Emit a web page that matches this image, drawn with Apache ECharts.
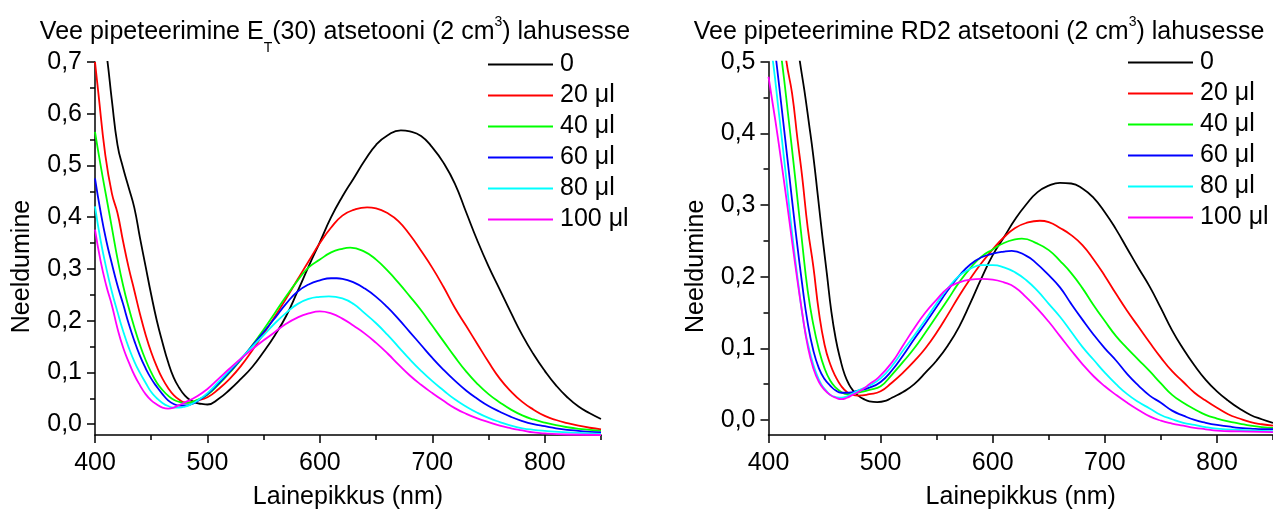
<!DOCTYPE html>
<html>
<head>
<meta charset="utf-8">
<script src="https://cdn.jsdelivr.net/npm/echarts@6/dist/echarts.min.js"></script>
<style>
  html, body { margin: 0; padding: 0; background: #ffffff; }
  #chart { width: 1273px; height: 515px; }
</style>
</head>
<body>
<div id="chart"></div>
<script>
// Absorption spectra after adding water to the dye solution in acetone.
// Each list holds [wavelength (nm), absorbance] pairs.

// E_T(30) in acetone
const et30_0 = [[400,0.87],[405,0.80],[411,0.703],[415,0.626],[420,0.54],[425,0.495],[430,0.457],[435,0.418],[440,0.36],[445,0.305],[450,0.25],[455,0.20],[460,0.158],[465,0.12],[470,0.09],[475,0.07],[480,0.055],[485,0.046],[490,0.041],[495,0.039],[500,0.038],[510,0.049],[520,0.067],[530,0.088],[540,0.111],[550,0.14],[560,0.172],[570,0.209],[580,0.256],[590,0.305],[600,0.352],[610,0.40],[620,0.44],[630,0.475],[640,0.51],[650,0.54],[660,0.558],[672,0.568],[680,0.566],[690,0.557],[700,0.535],[710,0.505],[720,0.465],[730,0.41],[740,0.355],[750,0.305],[760,0.26],[770,0.215],[780,0.172],[790,0.135],[800,0.103],[810,0.075],[820,0.052],[830,0.034],[840,0.021],[850,0.01]];
const et30_20 = [[400,0.70],[403,0.64],[409,0.523],[415,0.446],[420,0.408],[425,0.353],[430,0.302],[435,0.258],[440,0.213],[445,0.173],[450,0.139],[455,0.111],[460,0.088],[465,0.07],[470,0.056],[475,0.047],[480,0.042],[485,0.042],[490,0.045],[500,0.052],[510,0.068],[520,0.088],[530,0.113],[540,0.143],[550,0.175],[560,0.208],[570,0.243],[580,0.279],[590,0.315],[600,0.35],[610,0.38],[620,0.403],[630,0.414],[642,0.419],[650,0.417],[660,0.408],[670,0.392],[680,0.366],[690,0.335],[700,0.302],[710,0.265],[720,0.225],[730,0.19],[740,0.155],[750,0.12],[760,0.088],[770,0.063],[780,0.043],[790,0.028],[800,0.016],[810,0.008],[820,0.002],[830,-0.003],[840,-0.007],[850,-0.01]];
const et30_40 = [[400,0.565],[405,0.50],[410,0.44],[415,0.38],[420,0.32],[425,0.268],[430,0.225],[435,0.187],[440,0.153],[445,0.124],[450,0.10],[455,0.08],[460,0.066],[465,0.055],[470,0.047],[475,0.043],[480,0.041],[485,0.042],[490,0.046],[500,0.057],[510,0.077],[520,0.10],[530,0.125],[540,0.153],[550,0.183],[560,0.215],[570,0.247],[580,0.277],[590,0.303],[600,0.318],[610,0.332],[620,0.339],[627,0.341],[640,0.333],[650,0.318],[660,0.297],[670,0.273],[680,0.247],[690,0.22],[700,0.19],[710,0.16],[720,0.13],[730,0.102],[740,0.078],[750,0.058],[760,0.042],[770,0.028],[780,0.017],[790,0.009],[800,0.003],[810,-0.002],[820,-0.006],[830,-0.009],[840,-0.011],[850,-0.013]];
const et30_60 = [[400,0.475],[405,0.41],[410,0.355],[415,0.31],[420,0.268],[425,0.232],[430,0.194],[435,0.161],[440,0.132],[445,0.108],[450,0.088],[455,0.072],[460,0.058],[465,0.046],[470,0.039],[475,0.036],[480,0.036],[485,0.038],[490,0.043],[500,0.058],[510,0.079],[520,0.102],[530,0.126],[540,0.152],[550,0.178],[560,0.205],[570,0.233],[580,0.256],[590,0.27],[600,0.278],[610,0.282],[615,0.282],[620,0.281],[630,0.274],[640,0.262],[650,0.246],[660,0.226],[670,0.203],[680,0.178],[690,0.153],[700,0.128],[710,0.105],[720,0.084],[730,0.065],[740,0.049],[750,0.035],[760,0.024],[770,0.014],[780,0.006],[790,0.0],[800,-0.004],[810,-0.008],[820,-0.011],[830,-0.013],[840,-0.015],[850,-0.016]];
const et30_80 = [[400,0.421],[405,0.355],[410,0.302],[415,0.256],[420,0.217],[425,0.18],[430,0.148],[435,0.121],[440,0.099],[445,0.08],[450,0.062],[455,0.05],[460,0.041],[465,0.035],[470,0.032],[475,0.032],[480,0.034],[485,0.038],[490,0.044],[500,0.06],[510,0.082],[520,0.105],[530,0.127],[540,0.15],[550,0.172],[560,0.195],[570,0.215],[580,0.232],[590,0.242],[600,0.246],[608,0.247],[620,0.243],[630,0.232],[640,0.214],[650,0.195],[660,0.173],[670,0.149],[680,0.125],[690,0.103],[700,0.083],[710,0.065],[720,0.048],[730,0.034],[740,0.022],[750,0.012],[760,0.004],[770,-0.003],[780,-0.008],[790,-0.011],[800,-0.013],[820,-0.016],[850,-0.019]];
const et30_100 = [[400,0.376],[405,0.315],[410,0.268],[415,0.23],[420,0.185],[425,0.148],[430,0.12],[435,0.095],[440,0.075],[445,0.058],[450,0.046],[455,0.038],[460,0.032],[465,0.03],[470,0.032],[475,0.037],[480,0.042],[490,0.053],[500,0.068],[510,0.088],[520,0.108],[530,0.127],[540,0.145],[550,0.162],[560,0.178],[570,0.194],[580,0.206],[590,0.214],[600,0.218],[610,0.214],[620,0.204],[630,0.19],[640,0.175],[650,0.157],[660,0.137],[670,0.115],[680,0.094],[690,0.076],[700,0.06],[710,0.045],[720,0.031],[730,0.02],[740,0.011],[750,0.004],[760,-0.003],[770,-0.008],[780,-0.012],[790,-0.016],[800,-0.018],[820,-0.02],[850,-0.021]];

// RD2 in acetone
const rd2_0 = [[400,0.74],[410,0.68],[415,0.64],[420,0.59],[424,0.545],[428,0.50],[432,0.46],[436,0.415],[440,0.368],[444,0.313],[448,0.257],[452,0.205],[456,0.152],[460,0.113],[464,0.085],[468,0.063],[472,0.049],[476,0.04],[480,0.034],[485,0.029],[490,0.026],[497,0.025],[505,0.027],[510,0.031],[520,0.039],[530,0.05],[540,0.066],[550,0.083],[560,0.104],[570,0.13],[580,0.163],[590,0.198],[600,0.23],[610,0.255],[620,0.28],[630,0.301],[640,0.318],[650,0.327],[660,0.331],[670,0.33],[680,0.323],[690,0.31],[700,0.29],[710,0.266],[720,0.239],[730,0.212],[740,0.186],[750,0.156],[760,0.125],[770,0.099],[780,0.076],[790,0.056],[800,0.04],[810,0.027],[820,0.016],[830,0.007],[840,0.001],[850,-0.004]];
const rd2_20 = [[400,0.70],[405,0.65],[410,0.58],[416,0.50],[421,0.456],[426,0.39],[430,0.34],[435,0.268],[440,0.214],[445,0.15],[450,0.105],[455,0.078],[460,0.06],[465,0.047],[470,0.039],[475,0.035],[480,0.034],[490,0.036],[500,0.04],[510,0.052],[520,0.066],[530,0.082],[540,0.10],[550,0.122],[560,0.147],[570,0.173],[580,0.197],[590,0.219],[600,0.238],[610,0.255],[620,0.268],[630,0.275],[642,0.278],[650,0.276],[660,0.268],[670,0.258],[680,0.244],[690,0.224],[700,0.201],[710,0.176],[720,0.152],[730,0.13],[740,0.108],[750,0.087],[760,0.068],[770,0.053],[780,0.038],[790,0.027],[800,0.017],[810,0.008],[820,0.002],[830,-0.003],[840,-0.006],[850,-0.008]];
const rd2_40 = [[400,0.64],[405,0.58],[412,0.50],[418,0.419],[424,0.335],[430,0.248],[435,0.18],[440,0.133],[445,0.098],[450,0.072],[455,0.055],[460,0.045],[465,0.039],[470,0.036],[475,0.036],[480,0.038],[490,0.042],[500,0.047],[510,0.063],[520,0.081],[530,0.10],[540,0.122],[550,0.145],[560,0.168],[570,0.192],[580,0.212],[590,0.228],[600,0.238],[610,0.247],[620,0.252],[626,0.253],[640,0.246],[650,0.237],[660,0.222],[670,0.205],[680,0.184],[690,0.16],[700,0.138],[710,0.117],[720,0.10],[730,0.084],[740,0.068],[750,0.051],[760,0.035],[770,0.024],[780,0.015],[790,0.007],[800,0.002],[810,-0.002],[820,-0.005],[830,-0.008],[840,-0.01],[850,-0.011]];
const rd2_60 = [[400,0.59],[407,0.50],[412,0.432],[418,0.349],[424,0.266],[430,0.19],[435,0.135],[440,0.097],[445,0.072],[450,0.057],[455,0.048],[460,0.041],[465,0.038],[470,0.038],[475,0.039],[480,0.041],[490,0.045],[500,0.053],[510,0.069],[520,0.09],[530,0.113],[540,0.135],[550,0.158],[560,0.181],[570,0.201],[580,0.217],[590,0.227],[600,0.232],[610,0.235],[617,0.236],[630,0.229],[638,0.22],[650,0.202],[660,0.185],[670,0.162],[680,0.14],[690,0.119],[700,0.10],[710,0.083],[720,0.064],[730,0.048],[740,0.034],[750,0.024],[760,0.013],[770,0.006],[780,0.0],[790,-0.004],[800,-0.007],[810,-0.009],[820,-0.011],[830,-0.012],[840,-0.013],[850,-0.013]];
const rd2_80 = [[400,0.54],[404,0.50],[409,0.432],[415,0.349],[421,0.261],[427,0.185],[432,0.13],[438,0.088],[442,0.068],[447,0.05],[452,0.04],[456,0.034],[460,0.032],[465,0.031],[470,0.033],[475,0.037],[480,0.041],[490,0.048],[500,0.058],[510,0.075],[520,0.097],[530,0.118],[540,0.14],[550,0.163],[560,0.184],[570,0.201],[580,0.211],[590,0.216],[600,0.216],[610,0.213],[620,0.206],[630,0.195],[640,0.18],[650,0.162],[660,0.144],[670,0.123],[680,0.102],[690,0.084],[700,0.066],[710,0.05],[720,0.036],[730,0.025],[740,0.016],[750,0.007],[760,0.001],[770,-0.004],[780,-0.007],[790,-0.01],[800,-0.012],[820,-0.014],[850,-0.016]];
const rd2_100 = [[400,0.479],[406,0.419],[412,0.354],[418,0.285],[424,0.215],[430,0.15],[435,0.103],[440,0.072],[445,0.053],[450,0.042],[455,0.035],[460,0.031],[465,0.029],[470,0.031],[475,0.035],[480,0.039],[486,0.045],[490,0.05],[498,0.059],[510,0.08],[520,0.104],[530,0.128],[540,0.15],[550,0.168],[560,0.184],[570,0.192],[580,0.196],[590,0.197],[600,0.196],[610,0.192],[620,0.185],[630,0.171],[640,0.155],[650,0.137],[660,0.117],[670,0.097],[680,0.078],[690,0.061],[700,0.047],[710,0.035],[720,0.024],[730,0.014],[740,0.005],[750,-0.001],[760,-0.005],[770,-0.008],[780,-0.011],[790,-0.013],[800,-0.015],[820,-0.016],[850,-0.017]];

// Legend entries (added water volume) and line colours
const seriesNames = ['0', '20 μl', '40 μl', '60 μl', '80 μl', '100 μl'];
const seriesColors = ['#000000', '#ff0000', '#00ff00', '#0000ff', '#00ffff', '#ff00ff'];

// Tick positions
const xMajorTicks = [400, 500, 600, 700, 800];
const xMinorTicks = [450, 550, 650, 750, 850];
const yMajorTicksEt30 = [0, 0.1, 0.2, 0.3, 0.4, 0.5, 0.6, 0.7];
const yMinorTicksEt30 = [0.05, 0.15, 0.25, 0.35, 0.45, 0.55, 0.65];
const yMajorTicksRd2 = [0, 0.1, 0.2, 0.3, 0.4, 0.5];
const yMinorTicksRd2 = [0.05, 0.15, 0.25, 0.35, 0.45];

const et30Series = [et30_0, et30_20, et30_40, et30_60, et30_80, et30_100];
const rd2Series = [rd2_0, rd2_20, rd2_40, rd2_60, rd2_80, rd2_100];

const FONT = '"Liberation Sans", Arial, Helvetica, sans-serif';
const AXIS_COLOR = '#000000';

function xAxisMajor(gridIndex) {
  return {
    type: 'value', gridIndex: gridIndex, position: 'bottom',
    min: 400, max: 850,
    axisLine: { show: true, onZero: false, lineStyle: { color: AXIS_COLOR, width: 1.5 } },
    axisTick: { show: true, customValues: xMajorTicks, length: 8, lineStyle: { color: AXIS_COLOR, width: 1.5 } },
    axisLabel: { customValues: xMajorTicks, margin: 16, fontSize: 25, color: '#000', fontFamily: FONT },
    splitLine: { show: false },
    name: 'Lainepikkus (nm)', nameLocation: 'middle', nameGap: 50,
    nameTextStyle: { fontSize: 25, color: '#000', fontFamily: FONT }
  };
}
function xAxisMinor(gridIndex) {
  return {
    type: 'value', gridIndex: gridIndex, position: 'bottom',
    min: 400, max: 850,
    axisLine: { show: false, onZero: false },
    axisTick: { show: true, customValues: xMinorTicks, length: 5, lineStyle: { color: AXIS_COLOR, width: 1.5 } },
    axisLabel: { show: false },
    splitLine: { show: false }
  };
}
function yAxisMajor(gridIndex, max, ticks) {
  return {
    type: 'value', gridIndex: gridIndex, position: 'left',
    min: -0.021, max: max,
    axisLine: { show: true, onZero: false, lineStyle: { color: AXIS_COLOR, width: 1.5 } },
    axisTick: { show: true, customValues: ticks, length: 8, lineStyle: { color: AXIS_COLOR, width: 1.5 } },
    axisLabel: {
      customValues: ticks, margin: 13, fontSize: 25, color: '#000', fontFamily: FONT,
      formatter: function (v) { return v.toFixed(1).replace('.', ','); }
    },
    splitLine: { show: false },
    name: 'Neeldumine', nameLocation: 'middle', nameGap: 60, nameRotate: 90,
    nameTextStyle: { fontSize: 25, color: '#000', fontFamily: FONT, padding: [0, 36, 0, 0] }
  };
}
function yAxisMinor(gridIndex, max, ticks) {
  return {
    type: 'value', gridIndex: gridIndex, position: 'left',
    min: -0.021, max: max,
    axisLine: { show: false, onZero: false },
    axisTick: { show: true, customValues: ticks, length: 5, lineStyle: { color: AXIS_COLOR, width: 1.5 } },
    axisLabel: { show: false },
    splitLine: { show: false }
  };
}

function lineSeries(data, i, axisIndex) {
  return {
    type: 'line', name: seriesNames[i],
    xAxisIndex: axisIndex, yAxisIndex: axisIndex,
    data: data,
    showSymbol: false, symbol: 'none',
    smooth: 0.5,
    clip: true,
    lineStyle: { width: 1.8, color: seriesColors[i] },
    itemStyle: { color: seriesColors[i] },
    emphasis: { disabled: true }
  };
}

const titleStyle = {
  fontSize: 25, fontWeight: 'normal', color: '#000', fontFamily: FONT, lineHeight: 30,
  rich: {
    sub: { fontSize: 14, fontFamily: FONT, color: '#000', verticalAlign: 'bottom', lineHeight: 30, padding: [0, 0, -8, 0] },
    sup: { fontSize: 14, fontFamily: FONT, color: '#000', verticalAlign: 'top', lineHeight: 30, padding: [-2, 0, 0, 0] }
  }
};

const legendBase = {
  orient: 'vertical', icon: 'rect', itemWidth: 65, itemHeight: 2, itemGap: 6, padding: 0,
  selectedMode: false, data: seriesNames,
  textStyle: { fontSize: 25, lineHeight: 25, color: '#000', fontFamily: FONT, padding: [0, 0, 0, 2] }
};

const chart = echarts.init(document.getElementById('chart'), null, { renderer: 'canvas' });
chart.setOption({
  animation: false,
  backgroundColor: '#ffffff',
  title: [
    { text: 'Vee pipeteerimine E{sub|T}(30) atsetooni (2 cm{sup|3}) lahusesse', left: 335, top: 17, textAlign: 'center', padding: 0, textStyle: titleStyle },
    { text: 'Vee pipeteerimine RD2 atsetooni (2 cm{sup|3}) lahusesse', left: 979, top: 17, textAlign: 'center', padding: 0, textStyle: titleStyle }
  ],
  legend: [
    Object.assign({}, legendBase, { left: 488, top: 52 }),
    Object.assign({}, legendBase, { left: 1128, top: 50 })
  ],
  grid: [
    { left: 95, top: 62, width: 506, height: 374.5, containLabel: false },
    { left: 768.5, top: 61.7, width: 507, height: 374.3, containLabel: false }
  ],
  xAxis: [xAxisMajor(0), xAxisMinor(0), xAxisMajor(1), xAxisMinor(1)],
  yAxis: [
    yAxisMajor(0, 0.7, yMajorTicksEt30), yAxisMinor(0, 0.7, yMinorTicksEt30),
    yAxisMajor(1, 0.5, yMajorTicksRd2), yAxisMinor(1, 0.5, yMinorTicksRd2)
  ],
  series: et30Series.map(function (d, i) { return lineSeries(d, i, 0); })
    .concat(rd2Series.map(function (d, i) { return lineSeries(d, i, 2); }))
});
</script>
</body>
</html>
